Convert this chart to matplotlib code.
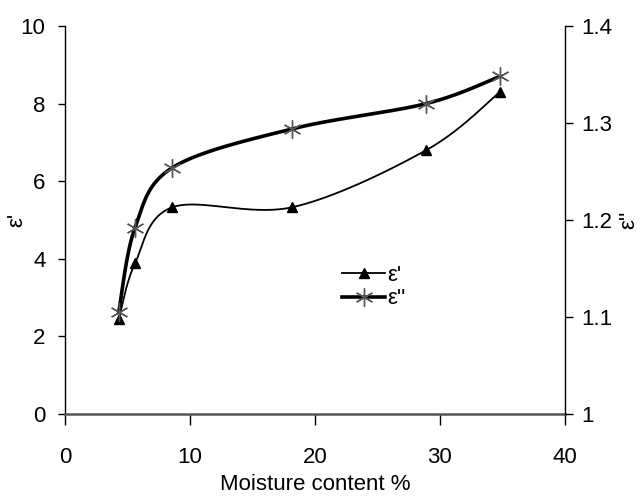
import numpy as np
import matplotlib
matplotlib.use("Agg")
import matplotlib.pyplot as plt
from matplotlib.lines import Line2D

plt.rcParams["font.family"] = ["Liberation Sans", "DejaVu Sans"]

# ── data ──────────────────────────────────────────────────────────────
moisture = [4.3, 5.6, 8.6, 18.2, 28.9, 34.8]
eps_real = [2.45, 3.88, 5.33, 5.33, 6.80, 8.30]        # ε'  (left axis)
eps_imag = [1.105, 1.192, 1.254, 1.294, 1.320, 1.348]  # ε'' (right axis)


def smooth(x, y, n=40):
    """Excel-style smoothed line (Catmull-Rom Bezier)."""
    p = np.column_stack([x, y]).astype(float)
    p = np.vstack([p[0], p, p[-1]])
    t = np.linspace(0, 1, n)[:, None]
    out = []
    for i in range(1, len(p) - 2):
        p0, p1, p2, p3 = p[i - 1], p[i], p[i + 1], p[i + 2]
        c1 = p1 + (p2 - p0) / 6
        c2 = p2 - (p3 - p1) / 6
        seg = ((1 - t) ** 3) * p1 + 3 * ((1 - t) ** 2) * t * c1 + 3 * (1 - t) * t ** 2 * c2 + t ** 3 * p2
        out.append(seg)
    s = np.vstack(out)
    return s[:, 0], s[:, 1]


fig = plt.figure(figsize=(6.41, 4.97), dpi=100)
ax = fig.add_axes([0.1014, 0.167, 0.78, 0.7807])
ax2 = ax.twinx()

sx, sy = smooth(moisture, eps_real)
ax.plot(sx, sy, color="black", lw=1.3)
ax.plot(moisture, eps_real, ls="none", marker="^", ms=7.5, color="black")

sx2, sy2 = smooth(moisture, eps_imag)
ax2.plot(sx2, sy2, color="black", lw=2.6)
ax2.plot(moisture, eps_imag, ls="none", marker=(6, 2, 0), ms=13,
         mec="#555555", mew=1.0)

ax.set_xlim(0, 40)
ax.set_ylim(0, 10)
ax2.set_ylim(1, 1.4)
ax.set_xticks([0, 10, 20, 30, 40])
ax.set_yticks([0, 2, 4, 6, 8, 10])
ax2.set_yticks([1, 1.1, 1.2, 1.3, 1.4])
ax2.set_yticklabels(["1", "1.1", "1.2", "1.3", "1.4"])

for a in (ax, ax2):
    a.spines["top"].set_visible(False)
ax.spines["right"].set_visible(False)
ax2.spines["left"].set_visible(False)
ax2.spines["bottom"].set_visible(False)
ax.spines["bottom"].set_color("#555555")
ax.spines["bottom"].set_linewidth(1.8)
ax.spines["left"].set_linewidth(1.0)
ax2.spines["right"].set_linewidth(1.0)

fs = 16
ax.tick_params(axis="x", direction="out", length=8, width=1, pad=16, labelsize=fs)
ax.tick_params(axis="y", direction="out", length=5, width=1, pad=9, labelsize=fs)
ax2.tick_params(axis="y", direction="out", length=6, width=1, pad=6, labelsize=fs)

ax.set_xlabel("Moisture content %", fontsize=fs, labelpad=4)
ax.set_ylabel("ε'", fontsize=fs)
ax2.set_ylabel("ε''", fontsize=fs)
ax.yaxis.set_label_coords(-0.075, 0.5)
ax2.yaxis.set_label_coords(1.107, 0.5)

handles = [
    Line2D([], [], color="black", lw=1.3, marker="^", ms=7.5),
    Line2D([], [], color="black", lw=2.6, marker=(6, 2, 0), ms=13, mec="#555555", mew=1.0),
]
ax.legend(handles, ["ε'", "ε''"], loc="upper left", bbox_to_anchor=(0.515, 0.435),
          frameon=False, fontsize=fs, handlelength=1.9, handletextpad=0.1,
          labelspacing=0.1)

fig.savefig("out.png", dpi=100)
